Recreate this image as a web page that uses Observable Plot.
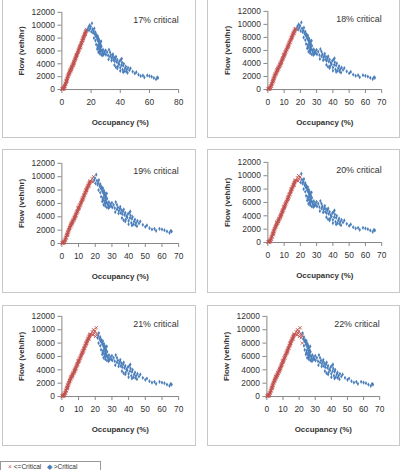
<!DOCTYPE html>
<html><head><meta charset="utf-8">
<script src="https://cdn.jsdelivr.net/npm/d3@7"></script>
<script src="https://cdn.jsdelivr.net/npm/@observablehq/plot@0.6"></script>
<style>
body{margin:0;background:#fff;width:402px;height:470px;overflow:hidden;position:relative;font-family:"Liberation Sans",Arial,sans-serif;}
.panel{position:absolute;border:1px solid #c8c8c8;box-sizing:border-box;background:#fff;}
.panel svg{position:absolute;left:-1px;top:-1px;overflow:visible;}
#legend{position:absolute;left:0;top:461px;width:101px;height:9px;border:1px solid #999;border-bottom:none;box-sizing:border-box;font-size:6.5px;line-height:7px;color:#333;padding:1px 0 0 7px;white-space:nowrap;}
#legend span.s{margin-right:2px;}
</style></head><body>
<script>
const criticalPct = [17, 18, 19, 20, 21, 22];
const xAxisMax = [80, 70, 70, 70, 70, 70];
const xTickStep = [20, 10, 10, 10, 10, 10];
const yTicks = [0, 2000, 4000, 6000, 8000, 10000, 12000];
const seriesNames = ["<=Critical", ">Critical"];
const xTitle = "Occupancy (%)";
const yTitle = "Flow (veh/hr)";

// observed occupancy (%) and flow (veh/hr)
const occupancy = [
 0.2,0.4,0.6,0.8,1.0,1.1,1.3,1.5,1.6,1.8,2.0,2.1,2.3,2.5,2.6,2.8,3.0,3.1,3.3,3.4,3.5,3.6,3.8,4.0,4.1,4.3,4.5,4.6,4.8,5.0,
 5.2,5.3,5.5,5.6,5.7,5.9,6.0,6.2,6.4,6.5,6.7,6.9,7.0,7.2,7.4,7.6,7.7,7.9,8.0,8.1,8.3,8.4,8.6,8.8,9.0,9.1,9.3,9.5,9.7,9.8,
 9.9,10.1,10.2,10.4,10.6,10.8,11.0,11.2,11.4,11.6,11.8,12.0,12.2,12.4,12.5,12.6,12.8,13.0,13.2,13.4,13.6,13.8,14.0,14.2,14.4,14.5,14.6,14.8,15.0,15.2,
 15.4,15.6,15.8,16.0,16.1,16.2,16.4,16.6,16.8,17.0,
 17.6,18.2,18.6,19.0,19.4,19.8,20.2,20.6,21.0,21.4,21.8,22.2,22.6,23.0,23.3,23.7,24.0,24.3,24.6,24.9,
 25.2,25.5,25.7,25.9,26.1,26.3,26.5,26.7,26.9,27.1,24.8,25.3,25.8,26.2,24.5,27.4,27.8,28.2,28.6,29.0,
 29.5,30.2,31.0,31.7,32.3,33.0,33.6,34.2,34.8,35.3,35.8,36.2,36.7,37.1,37.5,38.0,38.3,38.7,39.2,39.6,
 40.0,40.4,40.8,41.2,41.6,42.0,42.4,42.8,43.3,43.8,44.5,45.3,46.2,47.0,48.5,50.0,51.0,52.5,54.0,55.5,
 56.5,58.5,60.0,61.5,63.0,64.5,65.3,65.8,
 22.0,23.0,23.5,24.2,25.0,26.0,27.0,28.0,30.0,32.0,33.0,34.0,35.0,36.0,37.0,38.0,40.0,41.0,42.0,44.0,45.0
];
const flow = [
 30,80,60,150,200,120,300,350,250,480,600,520,800,950,850,1150,1300,1200,1450,1350,1600,1700,1750,1900,2050,2100,2250,2400,2350,2500,
 2700,2600,2800,3000,2950,2900,3050,3200,3300,3150,3400,3550,3500,3650,3800,3900,3750,4050,4000,4150,4300,4200,4450,4550,4650,4750,4850,4900,5100,5300,
 5150,5300,5400,5450,5600,5750,5800,5950,6100,6150,6300,6450,6500,6650,6600,6800,6850,7000,7150,7250,7300,7500,7600,7700,7850,8000,7950,8050,8200,8300,
 8400,8550,8650,8750,8600,8900,9000,9100,9250,9350,
 9300,9700,9200,10000,9500,9800,9000,10300,9400,8800,9100,9500,8600,8900,8300,8500,8100,7800,8300,7500,
 7900,7200,7600,6800,7300,6500,7000,6200,7500,6700,6900,6400,6100,5900,6600,6000,5700,6200,5500,5900,
 5600,5400,5800,5300,6200,5100,5400,4900,5200,4600,5000,4400,4800,5100,4300,4600,3600,4100,3900,4400,
 3400,4600,3800,4200,3100,3700,4000,2900,3300,3600,3100,3400,3000,3300,2800,2500,2700,2300,2100,2200,
 1900,2200,2100,2000,1800,1600,1900,1800,
 8000,7600,7000,6300,5800,5600,5400,5300,6100,4700,5800,4500,5500,3800,3500,3300,2900,4800,2700,2800,2600
];

const obs = occupancy.map((o, i) => ({occ: o, flow: flow[i]}));

// panel boxes and plot frames (page pixels)
const layout = [
 {left:2,   top:-2,  w:194, h:140, fl:62,  fr:180, ft:12,  fb:90},
 {left:207, top:-2,  w:193, h:140, fl:268, fr:383, ft:11,  fb:90},
 {left:2,   top:149, w:194, h:144, fl:62,  fr:180, ft:163, fb:244},
 {left:207, top:149, w:193, h:144, fl:268, fr:383, ft:162, fb:243},
 {left:2,   top:305, w:194, h:141, fl:62,  fr:180, ft:316, fb:397},
 {left:207, top:305, w:193, h:141, fl:267, fr:381, ft:316, fb:397}
];

const red = "#c0504d", blue = "#4a7ebb";

criticalPct.forEach((c, i) => {
  const L = layout[i];
  const div = document.createElement("div");
  div.className = "panel";
  div.style.left = L.left + "px"; div.style.top = L.top + "px";
  div.style.width = L.w + "px"; div.style.height = L.h + "px";
  const below = obs.filter(d => d.occ <= c);
  const above = obs.filter(d => d.occ > c);
  const xt = d3.range(0, xAxisMax[i] + 1, xTickStep[i]);
  const chart = Plot.plot({
    width: L.w, height: L.h,
    marginLeft: L.fl - L.left, marginRight: L.left + L.w - L.fr,
    marginTop: L.ft - L.top, marginBottom: L.top + L.h - L.fb,
    style: {fontFamily: "Liberation Sans, Arial, sans-serif", fontSize: "8.5px", color: "#333", background: "transparent"},
    x: {domain: [0, xAxisMax[i]]},
    y: {domain: [0, 12000]},
    marks: [
      Plot.axisX({ticks: xt, tickSize: 4, tickPadding: 6, label: null, stroke: "#888"}),
      Plot.axisY({ticks: yTicks, tickSize: 4, tickPadding: 3, label: null, stroke: "#888", tickFormat: d3.format("d")}),
      Plot.ruleX([0], {stroke: "#868686"}),
      Plot.ruleY([0], {stroke: "#868686"}),
      Plot.dot(below, {x: "occ", y: "flow", symbol: "times", stroke: red, r: 1.6, strokeWidth: 0.9}),
      Plot.dot(above, {x: "occ", y: "flow", symbol: "diamond", fill: blue, r: 1.3}),
      Plot.text([`${c}% critical`], {frameAnchor: "top-right", textAnchor: "end", lineAnchor: "middle", dy: 8, fontSize: 9, fill: "#333"}),
      Plot.text([xTitle], {frameAnchor: "bottom", textAnchor: "middle", lineAnchor: "middle", dy: 33, fontWeight: "bold", fontSize: 8, fill: "#333"}),
      Plot.text([yTitle], {frameAnchor: "left", textAnchor: "middle", lineAnchor: "middle", rotate: -90, dx: -41, fontWeight: "bold", fontSize: 8, fill: "#333"})
    ]
  });
  div.appendChild(chart);
  document.body.appendChild(div);
});

const leg = document.createElement("div");
leg.id = "legend";
leg.innerHTML = `<span class="s" style="color:${red}">×</span>${seriesNames[0].replace("<","&lt;")}&nbsp;&nbsp;&nbsp;<span class="s" style="color:${blue}">◆</span>${seriesNames[1].replace(">","&gt;")}`;
document.body.appendChild(leg);
</script>
</body></html>
